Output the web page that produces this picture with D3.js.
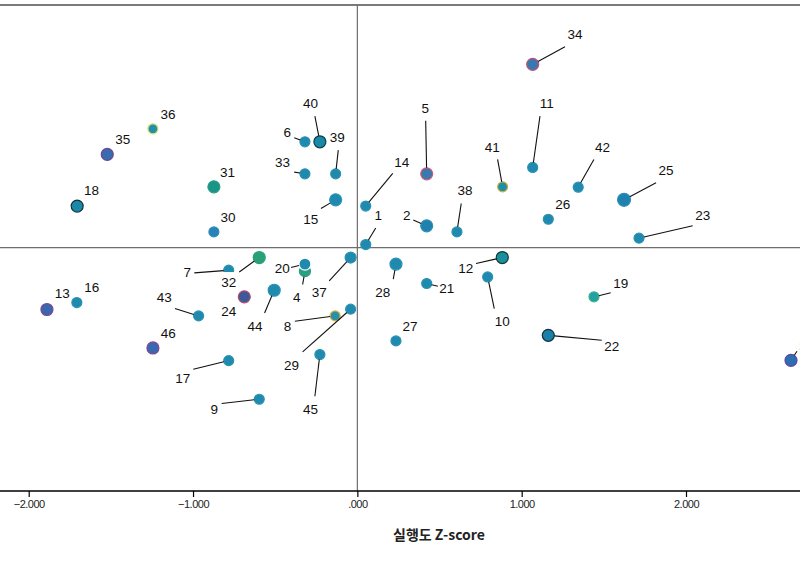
<!DOCTYPE html>
<html>
<head>
<meta charset="utf-8">
<script src="https://cdn.jsdelivr.net/npm/d3@7"></script>
<style>
  html, body { margin: 0; padding: 0; background: #fff; }
  svg { display: block; }
</style>
</head>
<body>
<div id="chart"></div>
<script>
// ---------------- data ----------------
const ids = [1,2,3,4,5,6,7,8,9,10,11,12,13,14,15,16,17,18,19,20,21,22,23,24,25,26,27,28,29,30,31,32,33,34,35,36,37,38,39,40,41,42,43,44,45,46];
// x: 실행도 Z-score
const xValues = [0.051,0.422,2.639,-0.319,0.422,-0.319,-0.783,-0.135,-0.597,0.793,1.067,0.882,-1.889,0.051,-0.132,-1.707,-0.783,-1.705,1.440,-0.319,0.422,1.162,1.714,-0.688,1.623,1.162,0.235,0.235,-0.041,-0.873,-0.873,-0.597,-0.319,1.067,-1.522,-1.244,-0.041,0.606,-0.132,-0.228,0.884,1.344,-0.966,-0.506,-0.228,-1.244];
// y: second Z-score
const yValues = [0.019,0.133,-0.685,-0.143,0.449,0.644,-0.137,-0.415,-0.922,-0.178,0.488,-0.060,-0.376,0.253,0.291,-0.334,-0.687,0.253,-0.299,-0.100,-0.218,-0.533,0.058,-0.299,0.291,0.173,-0.567,-0.100,-0.374,0.096,0.370,-0.060,0.449,1.115,0.567,0.723,-0.060,0.096,0.449,0.644,0.370,0.368,-0.415,-0.259,-0.650,-0.610];
const xTicks = [-2, -1, 0, 1, 2];
const xTitle = "실행도 Z-score";

// ---------------- styles (label placement, colours) ----------------
// label offset [dx, dy] from point, optional leader start offset
const labelPos = {
  1:[12.6,-29.3,10,-16.6], 2:[-20,-10.7,-13.4,-5.7], 3:[12,-14,6,-9], 4:[-8.3,25.7,-2.3,13.3],
  5:[-1.4,-65.4,-1,-53], 6:[-17.7,-10,-10.7,-4], 7:[-41.4,2.3,-34.4,2.7], 8:[-47.6,10,-40.3,5.3],
  9:[-45,10,-37.6,4.3], 10:[14.6,44.3,6.6,31.6], 11:[14,-64.6,7.3,-51.3], 12:[-36.6,11,-26.3,6],
  13:[15.3,-16], 14:[36,-44.3,27,-32.7], 15:[-25,19.3,-14.7,8.6], 16:[15,-15],
  17:[-46,18,-35.4,8.7], 18:[14.4,-16], 19:[26.7,-14,16.7,-4], 20:[-22.7,4.3,-14,3.3],
  21:[20,4.4,11.3,2.7], 22:[63.4,11,53.4,5], 23:[63.7,-23,53.7,-12.3], 24:[-15.6,14.3],
  25:[42,-29.7,32,-17], 26:[14.4,-15], 27:[14,-14.7], 28:[-13.3,28.3,-2.7,15],
  29:[-59,56,-48,42.7], 30:[14,-14.7], 31:[13.7,-15], 32:[-30.6,25,-20,14.4],
  33:[-22.3,-12,-10.7,-1.7], 34:[42.3,-30,32.3,-17.6], 35:[15.4,-15.3], 36:[15,-14.7],
  37:[-31.4,34.4,-21.4,23.4], 38:[8,-41.7,4.3,-28.4], 39:[1.6,-37,2.6,-23.7], 40:[-9.3,-39,-5,-25.7],
  41:[-10.4,-40,-5,-27.4], 42:[24.4,-39.7,15.7,-27.7], 43:[-34.4,-18.4,-23.7,-7.4], 44:[-19.3,36,-9.6,22.7],
  45:[-9.3,54.7,-5,41.7], 46:[15.3,-15]
};
const baseFill = "#1f89ae";
const pointStyle = {
  3:{f:"#2c6fb0",s:"#5a4aa0",r:6}, 4:{f:"#2a9f82",s:"#2a9f82",r:5.5}, 5:{f:"#3a78b0",s:"#d05a70",r:6},
  12:{f:"#1a8f9e",s:"#123c30",r:6}, 13:{f:"#3a66ae",s:"#7a4a92",r:6}, 15:{r:6}, 18:{f:"#1a88a8",s:"#14303c",r:6},
  19:{f:"#22a0a2",s:"#3fb08e"}, 20:{s:"#ffffff",r:6}, 22:{f:"#1a80a8",s:"#123040",r:6},
  24:{f:"#3c5a98",s:"#b04a70",r:6}, 25:{f:"#2080b2",r:6.5}, 2:{f:"#2080b0",r:6},
  30:{f:"#2a80b8"}, 31:{f:"#1a9488",s:"#22a080",r:6}, 32:{f:"#2aa07a",s:"#2aa07a",r:6},
  34:{f:"#3a78b0",s:"#c05078",r:6}, 35:{f:"#3a6ab0",s:"#6a4a90",r:6}, 36:{f:"#2290a8",s:"#d8e070"},
  40:{f:"#1a88a8",s:"#104040",r:6}, 41:{f:"#2090a8",s:"#d0b040"}, 8:{f:"#2890a8",s:"#d8b040"},
  44:{r:6}, 46:{f:"#3a68b0",s:"#7a4a92",r:6}, 37:{r:5.5}, 28:{r:6}
};

// ---------------- chart ----------------
const W = 800, H = 561;
const svg = d3.select("#chart").append("svg").attr("width", W).attr("height", H);

const x = d3.scaleLinear().domain([-2, 2]).range([28.7, 686]);
const y = d3.scaleLinear().domain([-1.48, 1.476]).range([491, 5]);

// frame top line
svg.append("line").attr("x1",0).attr("x2",W).attr("y1",5).attr("y2",5)
  .attr("stroke","#7a7a7a").attr("stroke-width",2);

// zero reference lines
svg.append("line").attr("x1",0).attr("x2",W).attr("y1",y(0)).attr("y2",y(0))
  .attr("stroke","#6e6e6e").attr("stroke-width",1.2);
svg.append("line").attr("x1",x(0)).attr("x2",x(0)).attr("y1",5).attr("y2",491)
  .attr("stroke","#6e6e6e").attr("stroke-width",1.2);

// x axis
const axisG = svg.append("g").attr("transform",`translate(0,491)`)
  .call(d3.axisBottom(x).tickValues(xTicks).tickSize(6)
    .tickFormat(d => d === 0 ? ".000" : d3.format(".3f")(d)));
axisG.select(".domain").remove();
axisG.selectAll(".tick line").attr("stroke","#000").attr("stroke-width",1.2);
axisG.selectAll(".tick text").attr("font-family","'Liberation Sans', Arial, sans-serif")
  .attr("font-size",11).attr("fill","#222").attr("dy","0.85em").attr("y",8)
  .attr("letter-spacing","-0.5px");
svg.append("line").attr("x1",0).attr("x2",W).attr("y1",491).attr("y2",491)
  .attr("stroke","#000").attr("stroke-width",1.4);

svg.append("text").attr("x",439).attr("y",540).attr("text-anchor","middle")
  .attr("font-family","'Noto Sans CJK KR','Liberation Sans', sans-serif")
  .attr("font-weight","bold").attr("font-size",14).attr("fill","#222")
  .text(xTitle);

const pts = ids.map((id,i) => ({id, xv:xValues[i], yv:yValues[i]}));

// points
const order = pts.slice().sort((a,b) => (a.id===20) - (b.id===20));
svg.append("g").selectAll("circle").data(order).join("circle")
  .attr("cx", d => x(d.xv)).attr("cy", d => y(d.yv))
  .attr("r", d => (pointStyle[d.id] && pointStyle[d.id].r) || 5)
  .attr("fill", d => (pointStyle[d.id] && pointStyle[d.id].f) || baseFill)
  .attr("stroke", d => (pointStyle[d.id] && pointStyle[d.id].s) || "#2b93b3")
  .attr("stroke-width", 1.2);

// leader lines
svg.append("g").selectAll("line").data(pts.filter(d => labelPos[d.id].length > 2)).join("line")
  .attr("x1", d => x(d.xv) + labelPos[d.id][2])
  .attr("y1", d => y(d.yv) + labelPos[d.id][3])
  .attr("x2", d => {
    const p = labelPos[d.id], r = ((pointStyle[d.id] && pointStyle[d.id].r) || 5);
    const len = Math.hypot(p[2], p[3]);
    return x(d.xv) + p[2] / len * r;
  })
  .attr("y2", d => {
    const p = labelPos[d.id], r = ((pointStyle[d.id] && pointStyle[d.id].r) || 5);
    const len = Math.hypot(p[2], p[3]);
    return y(d.yv) + p[3] / len * r;
  })
  .attr("stroke","#111").attr("stroke-width",1.1);

// labels with white backgrounds
const lg = svg.append("g").selectAll("g").data(pts).join("g")
  .attr("transform", d => `translate(${x(d.xv)+labelPos[d.id][0]},${y(d.yv)+labelPos[d.id][1]})`);
lg.append("rect").attr("x", d => -String(d.id).length*3.9 - 1).attr("y",-10.5)
  .attr("width", d => String(d.id).length*7.8 + 2).attr("height",18).attr("fill","#fff");
lg.append("text").attr("text-anchor","middle").attr("dy","0.36em")
  .attr("font-family","'Liberation Sans', Arial, sans-serif").attr("font-size",13.5)
  .attr("fill","#111").text(d => d.id);
</script>
</body>
</html>
